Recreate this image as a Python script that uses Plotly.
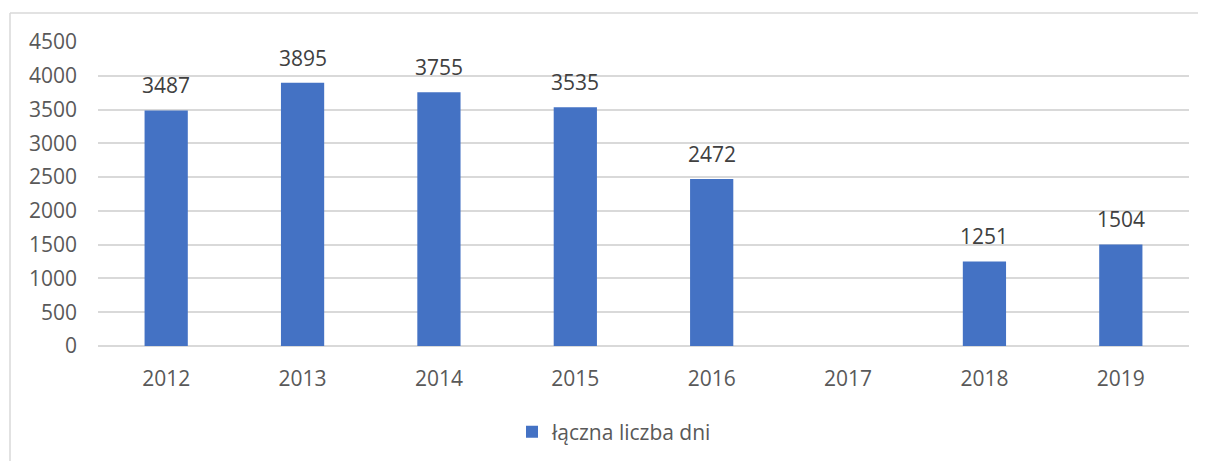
import plotly.graph_objects as go

years = ["2012", "2013", "2014", "2015", "2016", "2017", "2018", "2019"]
values = [3487, 3895, 3755, 3535, 2472, None, 1251, 1504]
series_name = "łączna liczba dni"
y_ticks = [0, 500, 1000, 1500, 2000, 2500, 3000, 3500, 4000, 4500]

FONT = "Open Sans, Noto Sans, sans-serif"
TXT = "#595959"
GRID = "#D9D9D9"

OFF = 8  # page body margin
W, H = 1206 - OFF, 461 - OFF
L, R, T, B = 98 - OFF, 17, 42 - OFF, 115
pw, ph = W - L - R, H - T - B

fig = go.Figure()
fig.add_trace(go.Bar(
    x=years, y=values, name=series_name,
    marker=dict(color="#4472C4", line=dict(width=0)),
    width=0.317,
))

for i, v in enumerate(values):
    if v is None:
        continue
    fig.add_annotation(x=i, y=v, xref="x", yref="y", text=str(v),
                       showarrow=False, yanchor="middle", yshift=25,
                       font=dict(family=FONT, size=21, color="#404040"))

def px_x(x):
    return (x - OFF - L) / pw

def px_y(y):
    return (H - B - (y - OFF)) / ph

fig.add_shape(type="line", xref="paper", yref="paper",
              x0=px_x(10), x1=px_x(10), y0=px_y(13), y1=px_y(470),
              line=dict(color=GRID, width=1.5))
fig.add_shape(type="line", xref="paper", yref="paper",
              x0=px_x(10), x1=px_x(1210), y0=px_y(13), y1=px_y(13),
              line=dict(color=GRID, width=1.5))

fig.update_layout(
    width=W, height=H,
    margin=dict(l=L, r=R, t=T, b=B, autoexpand=False),
    paper_bgcolor="white", plot_bgcolor="white",
    font=dict(family=FONT, size=21, color=TXT),
    showlegend=True,
    legend=dict(orientation="h", x=px_x(512), xanchor="left",
                y=px_y(432), yanchor="middle",
                font=dict(family=FONT, size=21, color=TXT),
                itemwidth=30),
    xaxis=dict(type="category", categoryorder="array", categoryarray=years,
               range=[-0.5, len(years) - 0.5], autorange=False,
               showgrid=False, showline=False,
               ticks="", ticklabelstandoff=18,
               tickfont=dict(size=21, color=TXT)),
    yaxis=dict(range=[0, 4500], tickvals=y_ticks, showgrid=True,
               gridcolor=GRID, gridwidth=1.5, zeroline=True,
               zerolinecolor=GRID, zerolinewidth=1.5, showline=False,
               ticks="", ticklabelstandoff=20,
               tickfont=dict(size=21, color=TXT)),
)

fig.write_html("out.html")
